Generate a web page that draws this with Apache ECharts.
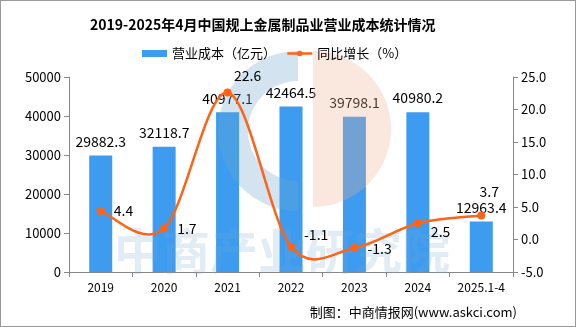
<!DOCTYPE html>
<html><head><meta charset="utf-8">
<script src="https://cdn.jsdelivr.net/npm/echarts@6/dist/echarts.min.js"></script>
<style>html,body{margin:0;padding:0;background:#fff}#c{width:576px;height:327px;box-sizing:border-box;border:1px solid #999}</style>
</head><body><div id="c"></div>
<script>
const categories = ['2019','2020','2021','2022','2023','2024','2025.1-4'];
const costValues = [29882.3, 32118.7, 40977.1, 42464.5, 39798.1, 40980.2, 12963.4];
const growthValues = [4.4, 1.7, 22.6, -1.1, -1.3, 2.5, 3.7];
const leftTicks = {min: 0, max: 50000, interval: 10000};
const rightTicks = {min: -5, max: 25, interval: 5};
const growthLabelPos = ['right','right','top','right','right','right','top'];
const growthLabelOffset = [[0,0],[0,0],[20,3],[0,-12],[0,1],[0,8],[8,-4]];

const font = '"Noto Sans CJK SC", "Noto Sans", sans-serif';
const lineColor = '#ff6316';
const chart = echarts.init(document.getElementById('c'));
chart.setOption({
  animation: false,
  textStyle: {fontFamily: font},
  title: {text: '2019-2025年4月中国规上金属制品业营业成本统计情况', left: 84, top: 12,
    textStyle: {fontSize: 14, fontWeight: 'bold', color: '#000', fontFamily: font}},
  legend: {top: 41, left: 136, itemGap: 10, itemWidth: 25, itemHeight: 7,
    textStyle: {fontSize: 13, color: '#000'},
    data: [{name: '营业成本（亿元）', icon: 'rect'},
           {name: '同比增长（%）', lineStyle: {color: lineColor, width: 2.5, opacity: 1}}]},
  graphic: [
    {type: 'sector', z: 3, silent: true,
      shape: {cx: 297, cy: 130, r: 80, r0: 50, startAngle: Math.PI / 2, endAngle: Math.PI * 1.5},
      style: {fill: 'rgba(110,165,205,0.30)'}},
    {type: 'sector', z: 3, silent: true,
      shape: {cx: 312, cy: 128, r: 78, r0: 0, startAngle: -Math.PI / 2, endAngle: Math.PI / 2},
      style: {fill: 'rgba(240,175,145,0.30)'}},
    {type: 'text', left: 113, top: 226, z: 3, silent: true,
      style: {text: '中商产业研究院', font: 'bold 48px ' + font, fill: 'rgba(120,170,210,0.22)'}},
    {type: 'text', right: 58, bottom: 7,
      style: {text: '制图：中商情报网(www.askci.com)', font: '13px ' + font, fill: '#000'}}
  ],
  grid: {left: 68, right: 62, top: 76, bottom: 54},
  xAxis: {type: 'category', data: categories,
    axisLine: {lineStyle: {color: '#888'}}, axisTick: {show: true, lineStyle: {color: '#888'}},
    axisLabel: {color: '#000', fontSize: 12, margin: 9}},
  yAxis: [
    {type: 'value', min: leftTicks.min, max: leftTicks.max, interval: leftTicks.interval,
      axisLine: {show: true, lineStyle: {color: '#888'}}, axisTick: {show: true, lineStyle: {color: '#888'}},
      splitLine: {show: false}, axisLabel: {color: '#000', fontSize: 13, formatter: v => String(v)}},
    {type: 'value', min: rightTicks.min, max: rightTicks.max, interval: rightTicks.interval,
      axisLine: {show: true, lineStyle: {color: '#888'}}, axisTick: {show: true, lineStyle: {color: '#888'}},
      splitLine: {show: false}, axisLabel: {color: '#000', fontSize: 13, formatter: v => v.toFixed(1)}}
  ],
  series: [
    {name: '营业成本（亿元）', type: 'bar', data: costValues, barWidth: 23, z: 2,
      itemStyle: {color: '#3d9cf0'},
      label: {show: true, position: 'top', distance: 7, color: '#000', fontSize: 14}},
    {type: 'custom', yAxisIndex: 1, z: 5, silent: true,
      data: [[0, growthValues[0]]],
      renderItem: function (params, api) {
        const pts = growthValues.map((v, i) => api.coord([i, v]));
        let d = 'M' + pts[0][0] + ',' + pts[0][1];
        for (let i = 0; i < pts.length - 1; i++) {
          const p0 = pts[i - 1] || pts[i], p1 = pts[i], p2 = pts[i + 1], p3 = pts[i + 2] || pts[i + 1];
          const c1x = p1[0] + (p2[0] - p0[0]) / 6, c1y = p1[1] + (p2[1] - p0[1]) / 6;
          const c2x = p2[0] - (p3[0] - p1[0]) / 6, c2y = p2[1] - (p3[1] - p1[1]) / 6;
          d += ' C' + c1x + ',' + c1y + ' ' + c2x + ',' + c2y + ' ' + p2[0] + ',' + p2[1];
        }
        return {type: 'path', shape: {pathData: d},
          style: {stroke: lineColor, lineWidth: 2.5, fill: null}};
      }},
    {name: '同比增长（%）', type: 'line', yAxisIndex: 1, z: 6,
      data: growthValues.map((v, i) => ({value: v,
        label: {position: growthLabelPos[i], offset: growthLabelOffset[i]}})),
      symbol: 'circle', symbolSize: 8,
      lineStyle: {color: lineColor, width: 2.5, opacity: 0}, itemStyle: {color: lineColor},
      label: {show: true, color: '#000', fontSize: 14, distance: 9}}
  ]
});
</script></body></html>
